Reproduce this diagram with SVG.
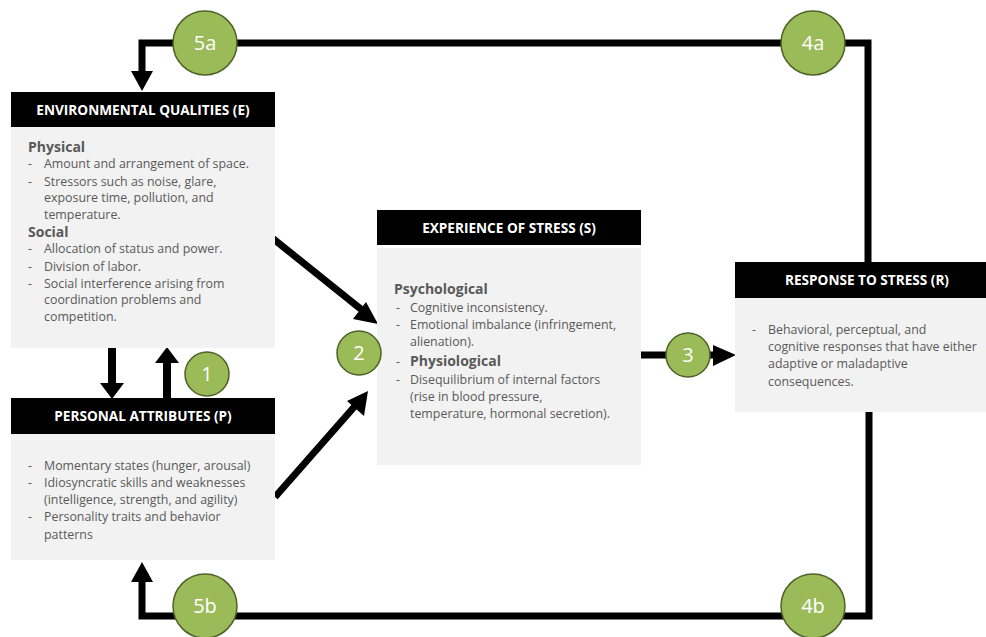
<svg xmlns="http://www.w3.org/2000/svg" width="986" height="637" viewBox="0 0 986 637">
<style>
.hdr{fill:#000}
.body{fill:#f2f2f2}
.ht{font-family:"Open Sans",Lato,sans-serif;font-weight:bold;font-size:13.6px;fill:#fff;text-anchor:middle}
.t{font-family:"Open Sans",Lato,sans-serif;font-size:12.4px;fill:#595959}
.b{font-family:"Open Sans",Lato,sans-serif;font-size:14px;font-weight:bold;fill:#595959}
.c{fill:#9bbb59;stroke:#4f6228;stroke-width:1.5}
.ct{font-family:"Open Sans",Lato,sans-serif;font-size:20px;fill:#fff;text-anchor:middle}
.ln{fill:none;stroke:#000;stroke-width:7}
.ah{fill:#000}
</style>
<g id="connectors">
<polyline class="ln" points="868,262 868,43 142,43 142,72"/>
<polygon class="ah" points="131,71 153,71 142,91"/>
<polyline class="ln" points="869,410 869,616 142,616 142,581"/>
<polygon class="ah" points="131,582 153,582 142,562"/>
<line class="ln" x1="112" y1="348" x2="112" y2="384" style="stroke-width:8"/>
<polygon class="ah" points="100,383 124,383 112,399"/>
<line class="ln" x1="167" y1="398" x2="167" y2="362" style="stroke-width:8"/>
<polygon class="ah" points="155,363 179,363 167,347"/>
<line class="ln" x1="266" y1="233" x2="362" y2="310"/>
<polygon class="ah" points="378,324 353,319 366,302"/>
<line class="ln" x1="275" y1="497" x2="355" y2="406"/>
<polygon class="ah" points="368,391 364,416 347,401"/>
<line class="ln" x1="641" y1="355" x2="715" y2="355"/>
<polygon class="ah" points="713,345 713,366 736,355"/>
</g>
<g id="node-env">
<rect class="hdr" x="11" y="92" width="264" height="35"/>
<rect class="body" x="11" y="127" width="264" height="221"/>
<text class="ht" x="143" y="115">ENVIRONMENTAL QUALITIES (E)</text>
<text class="b" x="28" y="152">Physical</text>
<text class="t" x="28" y="168">-</text><text class="t" x="44" y="168">Amount and arrangement of space.</text>
<text class="t" x="28" y="186">-</text><text class="t" x="44" y="186">Stressors such as noise, glare,</text>
<text class="t" x="44" y="202">exposure time, pollution, and</text>
<text class="t" x="44" y="219">temperature.</text>
<text class="b" x="28" y="237">Social</text>
<text class="t" x="28" y="253">-</text><text class="t" x="44" y="253">Allocation of status and power.</text>
<text class="t" x="28" y="271">-</text><text class="t" x="44" y="271">Division of labor.</text>
<text class="t" x="28" y="288">-</text><text class="t" x="44" y="288">Social interference arising from</text>
<text class="t" x="44" y="304">coordination problems and</text>
<text class="t" x="44" y="321">competition.</text>
</g>
<g id="node-personal">
<rect class="hdr" x="11" y="398" width="264" height="36"/>
<rect class="body" x="11" y="434" width="264" height="126"/>
<text class="ht" x="143" y="421">PERSONAL ATTRIBUTES (P)</text>
<text class="t" x="28" y="470">-</text><text class="t" x="44" y="470">Momentary states (hunger, arousal)</text>
<text class="t" x="28" y="487">-</text><text class="t" x="44" y="487">Idiosyncratic skills and weaknesses</text>
<text class="t" x="44" y="504">(intelligence, strength, and agility)</text>
<text class="t" x="28" y="521">-</text><text class="t" x="44" y="521">Personality traits and behavior</text>
<text class="t" x="44" y="539">patterns</text>
</g>
<g id="node-stress">
<rect class="hdr" x="377" y="210" width="264" height="35"/>
<rect class="body" x="377" y="248" width="264" height="217"/>
<text class="ht" x="509" y="233">EXPERIENCE OF STRESS (S)</text>
<text class="b" x="394" y="294">Psychological</text>
<text class="t" x="396" y="312">-</text><text class="t" x="410" y="312">Cognitive inconsistency.</text>
<text class="t" x="396" y="329">-</text><text class="t" x="410" y="329">Emotional imbalance (infringement,</text>
<text class="t" x="410" y="346">alienation).</text>
<text class="t" x="396" y="366">-</text><text class="b" x="410" y="366">Physiological</text>
<text class="t" x="396" y="384">-</text><text class="t" x="410" y="384">Disequilibrium of internal factors</text>
<text class="t" x="410" y="401">(rise in blood pressure,</text>
<text class="t" x="410" y="418">temperature, hormonal secretion).</text>
</g>
<g id="node-response">
<rect class="hdr" x="735" y="262" width="251" height="36"/>
<rect class="body" x="735" y="298" width="251" height="114"/>
<text class="ht" x="867" y="285">RESPONSE TO STRESS (R)</text>
<text class="t" x="752" y="334">-</text><text class="t" x="768" y="334">Behavioral, perceptual, and</text>
<text class="t" x="768" y="351">cognitive responses that have either</text>
<text class="t" x="768" y="368">adaptive or maladaptive</text>
<text class="t" x="768" y="386">consequences.</text>
</g>
<g id="label-5a"><circle class="c" cx="205" cy="43" r="32"/><text class="ct" x="205" y="50">5a</text></g>
<g id="label-4a"><circle class="c" cx="813" cy="43" r="32"/><text class="ct" x="813" y="50">4a</text></g>
<g id="label-5b"><circle class="c" cx="205" cy="606" r="32"/><text class="ct" x="205" y="613">5b</text></g>
<g id="label-4b"><circle class="c" cx="813" cy="606" r="32"/><text class="ct" x="813" y="613">4b</text></g>
<g id="label-1"><circle class="c" cx="207" cy="374" r="22"/><text class="ct" x="207" y="381">1</text></g>
<g id="label-2"><circle class="c" cx="359" cy="353" r="22"/><text class="ct" x="359" y="360">2</text></g>
<g id="label-3"><circle class="c" cx="688" cy="355" r="22"/><text class="ct" x="688" y="362">3</text></g>
</svg>
